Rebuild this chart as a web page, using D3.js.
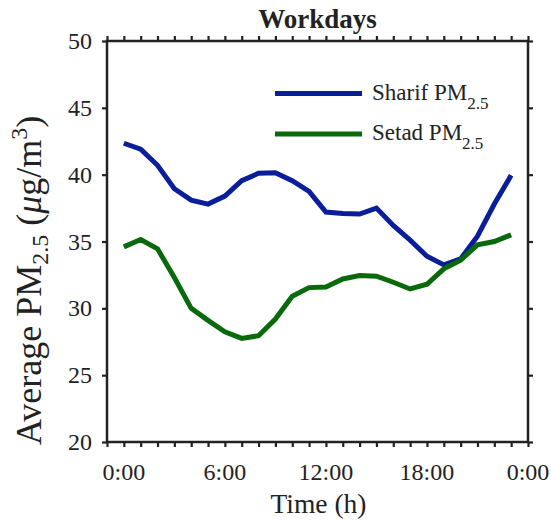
<!DOCTYPE html>
<html>
<head>
<meta charset="utf-8">
<script src="https://cdn.jsdelivr.net/npm/d3@7"></script>
<style>
  html, body { margin: 0; padding: 0; background: #fff; }
  svg text { font-family: "Liberation Serif", "Times New Roman", serif; fill: #222; }
</style>
</head>
<body>
<svg id="chart" width="551" height="521"></svg>
<script>
// Hour of day for each average
const hours = d3.range(0, 24);
// Hourly average PM2.5 on workdays (µg/m³)
const sharifPM = [42.35, 41.9, 40.7, 38.95, 38.1, 37.8, 38.4, 39.55, 40.1, 40.15, 39.55, 38.75,
                  37.2, 37.1, 37.05, 37.5, 36.2, 35.1, 33.9, 33.25, 33.7, 35.4, 37.8, 39.95];
const setadPM  = [34.6, 35.15, 34.45, 32.3, 30.0, 29.1, 28.25, 27.75, 27.95, 29.2, 30.9, 31.55,
                  31.6, 32.2, 32.45, 32.4, 31.95, 31.45, 31.8, 32.95, 33.6, 34.75, 35.0, 35.5];
const seriesNames = ["Sharif", "Setad"];
const seriesColors = ["#0a1d9b", "#086a0a"];
const yTicks = [20, 25, 30, 35, 40, 45, 50];
const xLabelHours = [0, 6, 12, 18, 24];
const xLabels = ["0:00", "6:00", "12:00", "18:00", "0:00"];

const svg = d3.select("#chart");
const plotL = 107, plotR = 528, plotT = 41, plotB = 442;

const x = d3.scaleLinear().domain([-1, 24]).range([plotL, plotR]);
const y = d3.scaleLinear().domain([20, 50]).range([plotB, plotT]);

const axisColor = "#222";
const hourTicks = d3.range(-1, 25);

// Frame axes with outward ticks on all four sides
const bottomAxis = d3.axisBottom(x).tickValues(hourTicks).tickSize(5).tickFormat("");
const topAxis = d3.axisTop(x).tickValues(hourTicks).tickSize(5).tickFormat("");
const leftAxis = d3.axisLeft(y).tickValues(yTicks).tickSize(5).tickFormat("");
const rightAxis = d3.axisRight(y).tickValues(yTicks).tickSize(5).tickFormat("");

function styleAxis(g) {
  g.select(".domain").remove();
  g.selectAll(".tick line").attr("stroke", axisColor).attr("stroke-width", 2.2);
}
svg.append("g").attr("transform", `translate(0,${plotB})`).call(bottomAxis).call(styleAxis);
svg.append("g").attr("transform", `translate(0,${plotT})`).call(topAxis).call(styleAxis);
svg.append("g").attr("transform", `translate(${plotL},0)`).call(leftAxis).call(styleAxis);
svg.append("g").attr("transform", `translate(${plotR},0)`).call(rightAxis).call(styleAxis);

svg.append("rect")
  .attr("x", x(-1)).attr("y", y(50))
  .attr("width", x(24) - x(-1)).attr("height", y(20) - y(50))
  .attr("fill", "none").attr("stroke", axisColor).attr("stroke-width", 2.5);

// Tick labels
svg.append("g").selectAll("text").data(xLabelHours).join("text")
  .attr("x", d => x(d)).attr("y", plotB + 38)
  .attr("text-anchor", "middle").attr("font-size", 24)
  .text((d, i) => xLabels[i]);

svg.append("g").selectAll("text").data(yTicks).join("text")
  .attr("x", plotL - 15).attr("y", d => y(d) + 8)
  .attr("text-anchor", "end").attr("font-size", 24)
  .text(d => d);

// Lines
const line = d3.line().x((d, i) => x(hours[i])).y(d => y(d));
[sharifPM, setadPM].forEach((vals, k) => {
  svg.append("path").datum(vals)
    .attr("d", line)
    .attr("fill", "none")
    .attr("stroke", seriesColors[k])
    .attr("stroke-width", 5)
    .attr("stroke-linejoin", "miter");
});

// Legend
const legendY = [93.5, 134];
seriesNames.forEach((name, k) => {
  svg.append("line")
    .attr("x1", 275).attr("x2", 362)
    .attr("y1", legendY[k]).attr("y2", legendY[k])
    .attr("stroke", seriesColors[k]).attr("stroke-width", 5);
  const t = svg.append("text")
    .attr("x", 372).attr("y", legendY[k] + 6)
    .attr("font-size", 23);
  t.append("tspan").text(name + " PM");
  t.append("tspan").attr("dy", 9).attr("font-size", 17).text("2.5");
});

// Title
svg.append("text")
  .attr("x", (plotL + plotR) / 2).attr("y", 28)
  .attr("text-anchor", "middle").attr("font-size", 27).attr("font-weight", "bold")
  .attr("fill", "#000")
  .text("Workdays");

// X axis title
svg.append("text")
  .attr("x", (plotL + plotR) / 2 + 1).attr("y", 513)
  .attr("text-anchor", "middle").attr("font-size", 27.5)
  .text("Time (h)");

// Y axis title
const yt = svg.append("text")
  .attr("transform", "translate(41,445) rotate(-90)")
  .attr("text-anchor", "start").attr("font-size", 36);
yt.append("tspan").text("Average PM");
yt.append("tspan").attr("dy", 7).attr("font-size", 24).text("2.5");
yt.append("tspan").attr("dy", -7).text(" (");
yt.append("tspan").attr("font-style", "italic").text("\u03BC");
yt.append("tspan").text("g/m");
yt.append("tspan").attr("dy", -14).attr("font-size", 24).text("3");
yt.append("tspan").attr("dy", 14).text(")");
</script>
</body>
</html>
